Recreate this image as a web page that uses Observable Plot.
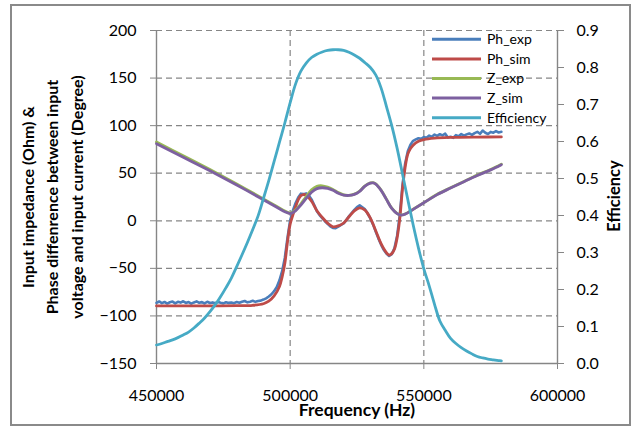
<!DOCTYPE html>
<html><head><meta charset="utf-8">
<script src="https://cdn.jsdelivr.net/npm/d3@7"></script>
<script src="https://cdn.jsdelivr.net/npm/@observablehq/plot@0.6"></script>
<style>
html,body{margin:0;padding:0;background:#fff;}
#chart{width:635px;height:428px;}
</style>
</head><body><div id="chart"></div>
<script>
// ---- data ----
const freqTicks = [450000, 500000, 550000, 600000];
const leftTicks = [-150, -100, -50, 0, 50, 100, 150, 200];
const effTicks = [0, 0.1, 0.2, 0.3, 0.4, 0.5, 0.6, 0.7, 0.8, 0.9];
const seriesNames = ["Ph_exp", "Ph_sim", "Z_exp", "Z_sim", "Efficiency"];
const seriesColors = ["#4A7EBB", "#BE4B48", "#98B954", "#7D60A0", "#46AAC5"];

// Ph_exp sampled every 1000 Hz from 450000 to 579000
const phExpFreq = d3.range(450000, 579001, 1000);
const phExp = [
  -86.2, -84.8, -86.5, -85.3, -87.0, -85.6, -84.9, -86.8, -85.2, -86.0,
  -84.6, -86.3, -85.4, -87.1, -85.8, -84.7, -86.2, -85.5, -86.9, -85.1,
  -86.4, -85.8, -86.7, -85.3, -86.1, -86.8, -85.6, -86.3, -85.9, -86.6,
  -85.4, -86.2, -85.1, -84.3, -85.7, -85.0, -84.1, -85.2, -84.4, -83.9,
  -82.8, -81.5, -79.6, -77.2, -74.0, -69.5, -62.5, -53.0, -39.0, -18.0,
  0.5, 10.5, 18.5, 24.5, 28.5, 28.0, 28.8, 26.5, 22.5, 16.5,
  10.0, 6.0, 2.8, -0.5, -3.2, -5.8, -7.5, -7.8, -6.2, -4.3,
  -2.8, 0.8, 4.8, 8.2, 11.5, 14.4, 16.2, 14.2, 12.0, 7.5,
  2.5, -3.8, -11.2, -18.5, -25.0, -30.5, -34.5, -37.0, -35.0, -29.0,
  -16.0, 6.0, 37.0, 60.0, 73.0, 80.0, 84.0, 85.5, 86.8, 86.2,
  88.0, 87.3, 89.5, 88.4, 90.6, 89.2, 91.0, 89.8, 91.5, 87.5,
  88.3, 87.2, 90.0, 88.9, 91.2, 89.5, 90.8, 91.8, 90.3, 92.2,
  93.5, 91.4, 94.8, 92.5, 91.2, 93.4, 92.6, 94.2, 92.8, 93.5
];

const phSimFreq = [450000, 460000, 470000, 480000, 486000, 490000, 492000, 494000, 496000, 497000,
  498000, 499000, 500000, 501000, 502000, 503000, 504000, 505000, 506000, 508000,
  510000, 512000, 514000, 516000, 518000, 520000, 522000, 524000, 526000, 528000,
  530000, 532000, 534000, 536000, 537000, 538000, 539000, 540000, 541000, 542000,
  543000, 544000, 545000, 546000, 548000, 550000, 554000, 560000, 570000, 579000];
const phSim = [-89.5, -89.5, -89.4, -89.2, -88.8, -87.2, -84.5, -79.0, -69.0, -59.0,
  -45.0, -22.0, -3.5, 6.0, 14.5, 22.0, 26.5, 27.6, 26.8, 20.5,
  10.5, 3.5, -2.5, -6.3, -5.3, -2.3, 4.2, 10.4, 13.6, 11.2,
  2.8, -10.5, -24.0, -33.5, -36.0, -34.5, -30.0, -18.0, 2.0, 33.0,
  56.0, 70.0, 76.0, 79.5, 83.5, 85.3, 86.8, 87.6, 88.0, 88.1];

const zFreq = [450000, 460000, 470000, 480000, 490000, 495000, 498000, 500000, 502000, 504000,
  506000, 508000, 510000, 512000, 514000, 516000, 518000, 520000, 522000, 524000,
  526000, 528000, 530000, 531000, 532000, 534000, 536000, 538000, 540000, 541500,
  543000, 546000, 550000, 555000, 560000, 565000, 570000, 575000, 579000];
const zExp = [82.8, 68.3, 53.8, 38.7, 23.0, 15.0, 10.2, 8.0, 11.2, 17.8,
  25.5, 32.5, 36.3, 36.8, 35.5, 33.0, 29.6, 27.3, 26.8, 28.0,
  31.3, 36.8, 39.8, 40.1, 38.8, 32.3, 22.8, 13.2, 7.7, 6.2,
  7.2, 12.2, 19.1, 27.8, 34.7, 41.4, 48.0, 54.0, 59.5];
const zSim = [81.0, 66.8, 52.5, 37.6, 22.1, 14.3, 9.6, 7.6, 10.5, 16.5,
  23.5, 30.0, 33.8, 34.7, 34.0, 32.0, 29.0, 27.0, 26.6, 27.8,
  31.0, 36.5, 39.5, 39.8, 38.5, 32.0, 22.5, 13.0, 7.5, 6.0,
  7.0, 12.0, 18.9, 27.5, 34.4, 41.1, 47.6, 53.5, 59.0];

const effFreq = [450000, 452000, 454000, 456000, 458000, 460000, 462000, 464000, 466000, 468000,
  470000, 472000, 474000, 476000, 478000, 480000, 482000, 484000, 486000, 488000,
  490000, 492000, 494000, 496000, 498000, 500000, 502000, 504000, 506000, 508000,
  510000, 512000, 514000, 516000, 518000, 520000, 522000, 524000, 526000, 528000,
  530000, 532000, 534000, 536000, 538000, 540000, 542000, 544000, 546000, 548000,
  550000, 552000, 554000, 556000, 558000, 560000, 562000, 564000, 566000, 568000,
  570000, 572000, 574000, 576000, 578000, 579000];
const efficiency = [0.050, 0.054, 0.059, 0.064, 0.070, 0.077, 0.085, 0.096, 0.109, 0.123,
  0.140, 0.159, 0.181, 0.205, 0.231, 0.262, 0.294, 0.327, 0.362, 0.399,
  0.446, 0.494, 0.546, 0.598, 0.650, 0.705, 0.755, 0.790, 0.812, 0.827,
  0.836, 0.842, 0.846, 0.848, 0.848, 0.846, 0.841, 0.834, 0.825, 0.813,
  0.800, 0.780, 0.745, 0.695, 0.643, 0.582, 0.513, 0.443, 0.375, 0.312,
  0.256, 0.210, 0.160, 0.115, 0.090, 0.068, 0.054, 0.043, 0.034, 0.026,
  0.019, 0.015, 0.012, 0.010, 0.008, 0.007];

// ---- build ----
const e2l = d3.scaleLinear().domain([0, 0.9]).range([-150, 200]); // secondary -> primary units
const phExpData = phExpFreq.map((f, i) => ({f, v: phExp[i]}));
const phSimData = phSimFreq.map((f, i) => ({f, v: phSim[i]}));
const zExpData = zFreq.map((f, i) => ({f, v: zExp[i]}));
const zSimData = zFreq.map((f, i) => ({f, v: zSim[i]}));
const effData = effFreq.map((f, i) => ({f, v: e2l(efficiency[i])}));

const gridStyle = {stroke: "#868686", strokeOpacity: 1, strokeWidth: 1.2, strokeDasharray: "6,4"};
const axisLine = {stroke: "#868686", strokeWidth: 1.4};
const lw = 2.8;

const svg = Plot.plot({
  width: 635, height: 428,
  marginLeft: 156, marginRight: 78, marginTop: 30, marginBottom: 65,
  style: {fontFamily: "Lato, 'Open Sans', sans-serif", fontSize: "16px", color: "#000", background: "transparent"},
  x: {domain: [450000, 600000]},
  y: {domain: [-150, 200]},
  marks: [
    Plot.gridY(leftTicks.filter(d => d > -150), gridStyle),
    Plot.gridX([500000, 550000], gridStyle),
    Plot.ruleX([450000, 600000], axisLine),
    Plot.ruleY([-150], axisLine),
    Plot.axisY(leftTicks, {anchor: "left", tickSize: 6, tickPadding: 14, label: null, stroke: "#868686", fill: "#000", fontSize: 16}),
    Plot.axisY(effTicks.map(e2l), {anchor: "right", tickSize: 6, tickPadding: 13, label: null, stroke: "#868686", fill: "#000", fontSize: 16,
      tickFormat: v => e2l.invert(v).toFixed(1)}),
    Plot.axisX(freqTicks, {tickSize: 6, tickPadding: 20, label: null, stroke: "#868686", fill: "#000", fontSize: 16,
      tickFormat: d3.format("d")}),
    Plot.line(phExpData, {x: "f", y: "v", stroke: seriesColors[0], strokeWidth: 2.6, curve: "linear"}),
    Plot.line(phSimData, {x: "f", y: "v", stroke: seriesColors[1], strokeWidth: lw, curve: "catmull-rom"}),
    Plot.line(zExpData, {x: "f", y: "v", stroke: seriesColors[2], strokeWidth: lw, curve: "catmull-rom"}),
    Plot.line(zSimData, {x: "f", y: "v", stroke: seriesColors[3], strokeWidth: lw, curve: "catmull-rom"}),
    Plot.line(effData, {x: "f", y: "v", stroke: seriesColors[4], strokeWidth: lw, curve: "catmull-rom"})
  ]
});

const s = d3.select(svg);
// chart border
s.append("rect").attr("x", 11).attr("y", 5).attr("width", 619).attr("height", 420)
  .attr("fill", "none").attr("stroke", "#8a8a8a").attr("stroke-width", 2);

const titleFont = "Lato, 'Open Sans', sans-serif";
// left axis title (three lines)
const leftLines = ["Input impedance (Ohm) &", "Phase diffenrence between input", "voltage and input current (Degree)"];
const leftX = [28, 52.5, 77];
leftLines.forEach((t, i) => {
  s.append("text").attr("transform", `translate(${leftX[i]},197) rotate(-90)`)
    .attr("text-anchor", "middle").attr("dy", "0.35em")
    .attr("font-family", titleFont).attr("font-weight", "bold").attr("font-size", 16).attr("fill", "#000").text(t);
});
// right axis title
s.append("text").attr("transform", "translate(614,196) rotate(-90)")
  .attr("text-anchor", "middle").attr("dy", "0.35em")
  .attr("font-family", titleFont).attr("font-weight", "bold").attr("font-size", 16.5).attr("fill", "#000").text("Efficiency");
// x axis title
s.append("text").attr("x", 357).attr("y", 416).attr("text-anchor", "middle")
  .attr("font-family", titleFont).attr("font-weight", "bold").attr("font-size", 17.5).attr("fill", "#000").text("Frequency (Hz)");

// legend
const lg = s.append("g");
seriesNames.forEach((n, i) => {
  const y = 39.3 + i * 19.6;
  lg.append("line").attr("x1", 432).attr("x2", 481).attr("y1", y).attr("y2", y)
    .attr("stroke", seriesColors[i]).attr("stroke-width", 3);
  lg.append("text").attr("x", 487).attr("y", y).attr("dy", "0.35em").attr("text-anchor", "start")
    .attr("font-family", titleFont).attr("font-size", 14).attr("fill", "#000").text(n);
});

document.getElementById("chart").appendChild(svg);
</script>
</body></html>
